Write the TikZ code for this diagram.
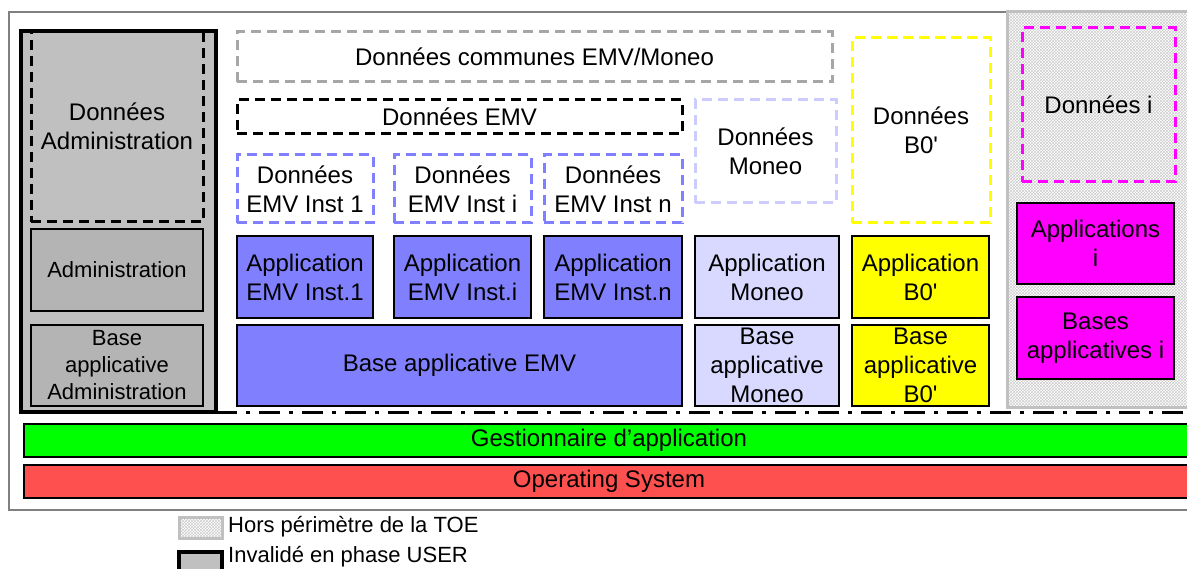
\documentclass[tikz,border=0pt]{standalone}
\usepackage{fontspec}
\setmainfont{Liberation Sans}
\usetikzlibrary{patterns}
\definecolor{admingray}{HTML}{C0C0C0}
\definecolor{admininner}{HTML}{B4B4B4}
\definecolor{emvblue}{HTML}{8080FF}
\definecolor{moneolilac}{HTML}{D9D9FF}
\definecolor{moneodash}{HTML}{CCCCFF}
\definecolor{communegray}{HTML}{A6A6A6}
\definecolor{bzeroyellow}{HTML}{FFFF00}
\definecolor{appimagenta}{HTML}{FF00FF}
\definecolor{gestgreen}{HTML}{00FF00}
\definecolor{osred}{HTML}{FF5050}
\definecolor{framegray}{HTML}{808080}
\tikzset{bloc/.style={draw=black, line width=2pt, align=center, inner sep=0pt,
  font=\fontsize{24}{29}\selectfont}}
\tikzset{donnees/.style={bloc, line width=3pt, dash pattern=on 10pt off 6pt}}
\tikzset{petit/.style={font=\fontsize{22}{27}\selectfont}}
\tikzset{horstoe/.style={draw=admingray, line width=3pt, pattern=crosshatch, pattern color=black!20}}

\begin{document}
\begin{tikzpicture}[x=1pt,y=-1pt]
  \useasboundingbox (0,0) rectangle (1187,569);
  \clip (0,0) rectangle (1187,569);

  \draw[framegray, line width=1.5pt] (9,12) rectangle (1205,510);
  \path[horstoe] (1007,12) rectangle (1205,408);

  % zone administration
  \node[bloc, fill=admingray, line width=3.5pt, minimum width=195pt, minimum height=381pt] (zoneadmin) at (118.5,221.5) {};
  \node[donnees, minimum width=172pt, minimum height=191pt] (donadmin) at (117,126.5) {Données\\Administration};
  \node[bloc, petit, fill=admininner, minimum width=172pt, minimum height=82pt] (admin) at (117,270) {Administration};
  \node[bloc, petit, fill=admininner, minimum width=172pt, minimum height=81pt] (baseadmin) at (117,365.5) {Base\\applicative\\Administration};

  % EMV
  \node[donnees, draw=communegray, minimum width=595pt, minimum height=50pt] (doncommunes) at (534.5,57) {Données communes EMV/Moneo};
  \node[donnees, minimum width=445pt, minimum height=34pt] (donemv) at (459.5,117) {Données EMV};
  \node[donnees, draw=emvblue, minimum width=136pt, minimum height=68pt] (donemvun) at (305,189) {Données\\EMV Inst 1};
  \node[donnees, draw=emvblue, minimum width=137pt, minimum height=68pt] (donemvi) at (462.5,189) {Données\\EMV Inst i};
  \node[donnees, draw=emvblue, minimum width=138pt, minimum height=68pt] (donemvn) at (613,189) {Données\\EMV Inst n};
  \node[bloc, fill=emvblue, minimum width=136pt, minimum height=82pt] (appemvun) at (305,277) {Application\\EMV Inst.1};
  \node[bloc, fill=emvblue, minimum width=137pt, minimum height=82pt] (appemvi) at (462.5,277) {Application\\EMV Inst.i};
  \node[bloc, fill=emvblue, minimum width=138pt, minimum height=82pt] (appemvn) at (613,277) {Application\\EMV Inst.n};
  \node[bloc, fill=emvblue, minimum width=445pt, minimum height=81pt] (baseemv) at (459.5,365.5) {Base applicative EMV};

  % Moneo
  \node[donnees, draw=moneodash, minimum width=141pt, minimum height=103pt] (donmoneo) at (765.5,151.5) {Données\\Moneo};
  \node[bloc, fill=moneolilac, minimum width=144pt, minimum height=82pt] (appmoneo) at (767,277) {Application\\Moneo};
  \node[bloc, fill=moneolilac, minimum width=144pt, minimum height=81pt] (basemoneo) at (767,365.5) {Base\\applicative\\Moneo};

  % B0'
  \node[donnees, draw=bzeroyellow, minimum width=138pt, minimum height=185pt] (donbzero) at (921,130.5) {Données\\B0\textquotesingle};
  \node[bloc, fill=bzeroyellow, minimum width=137pt, minimum height=82pt] (appbzero) at (920.5,277) {Application\\B0\textquotesingle};
  \node[bloc, fill=bzeroyellow, minimum width=137pt, minimum height=81pt] (basebzero) at (920.5,365.5) {Base\\applicative\\B0\textquotesingle};

  % applications i
  \node[donnees, draw=appimagenta, minimum width=153pt, minimum height=154pt] (doni) at (1098.5,105) {Données i};
  \node[bloc, fill=appimagenta, minimum width=157pt, minimum height=81pt] (appi) at (1095.5,243.5) {Applications\\i};
  \node[bloc, fill=appimagenta, minimum width=157pt, minimum height=82pt] (basei) at (1095.5,338) {Bases\\applicatives i};

  \coordinate (sepgauche) at (216,413);
  \coordinate (sepdroite) at (1205,413);
  \draw[line width=3pt, dash pattern=on 21pt off 9pt on 4pt off 9pt] (sepgauche) -- (sepdroite);

  \node[bloc, fill=gestgreen, minimum width=1170pt, minimum height=33pt] (gestion) at (609,440.5) {Gestionnaire d’application};
  \node[bloc, fill=osred, minimum width=1170pt, minimum height=33pt] (os) at (609,481.5) {Operating System};

  % legende
  \node[horstoe, minimum width=43pt, minimum height=21pt, inner sep=0pt] (cleftoe) at (200.5,527.5) {};
  \node[petit, anchor=west, inner sep=0pt] (txttoe) at (228,527) {Hors périmètre de la TOE};
  \node[draw=black, fill=admingray, line width=3.5pt, minimum width=43pt, minimum height=28pt, inner sep=0pt] (clefuser) at (200.5,566) {};
  \node[petit, anchor=west, inner sep=0pt] (txtuser) at (228,557) {Invalidé en phase USER};
\end{tikzpicture}
\end{document}
